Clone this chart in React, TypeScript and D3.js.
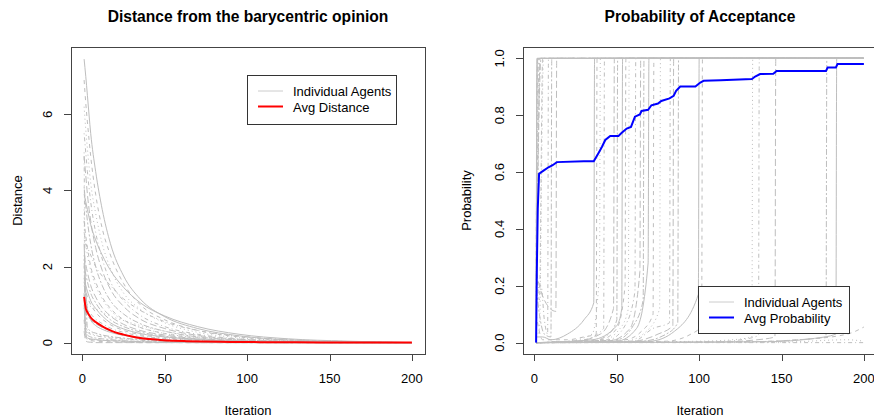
import React from "react";
import * as d3 from "d3";

// iterations at which the individual distance curves were read
const distIters = [1, 2, 3, 5, 8, 12, 17, 25, 35, 50, 70, 95, 125, 160, 200];

const distanceAgents: number[][] = [
  [7.45, 7.0, 6.5, 5.5, 4.5, 3.5, 2.6, 1.75, 1.15, 0.68, 0.37, 0.18, 0.07, 0.03, 0.0],
  [6.9, 6.3, 5.8, 4.9, 3.9, 3.0, 2.3, 1.55, 1.0, 0.6, 0.32, 0.15, 0.06, 0.02, 0.0],
  [6.2, 5.6, 5.1, 4.2, 3.4, 2.6, 1.95, 1.3, 0.88, 0.52, 0.27, 0.13, 0.05, 0.02, 0.0],
  [5.5, 5.0, 4.5, 3.7, 2.9, 2.2, 1.6, 1.1, 0.72, 0.42, 0.22, 0.1, 0.04, 0.015, 0.0],
  [4.9, 4.4, 3.9, 3.2, 2.5, 1.9, 1.4, 0.95, 0.62, 0.37, 0.19, 0.09, 0.035, 0.01, 0.0],
  [4.1, 3.6, 3.2, 2.6, 2.0, 1.5, 1.1, 0.75, 0.5, 0.3, 0.15, 0.07, 0.03, 0.01, 0.0],
  [3.9, 3.7, 3.5, 3.1, 2.7, 2.3, 1.9, 1.45, 1.05, 0.7, 0.42, 0.22, 0.1, 0.04, 0.0],
  [3.2, 2.8, 2.5, 2.0, 1.6, 1.2, 0.9, 0.6, 0.4, 0.24, 0.12, 0.05, 0.02, 0.01, 0.0],
  [2.9, 2.6, 2.3, 1.9, 1.5, 1.15, 0.85, 0.58, 0.4, 0.24, 0.13, 0.06, 0.02, 0.01, 0.0],
  [2.7, 2.6, 2.5, 2.3, 2.0, 1.75, 1.5, 1.15, 0.85, 0.55, 0.32, 0.17, 0.08, 0.03, 0.0],
  [2.3, 2.05, 1.85, 1.5, 1.2, 0.92, 0.7, 0.48, 0.32, 0.2, 0.1, 0.05, 0.02, 0.005, 0.0],
  [2.0, 1.8, 1.6, 1.3, 1.05, 0.8, 0.6, 0.42, 0.28, 0.17, 0.09, 0.04, 0.015, 0.005, 0.0],
  [1.7, 1.5, 1.35, 1.1, 0.9, 0.7, 0.52, 0.36, 0.24, 0.15, 0.08, 0.035, 0.01, 0.0, 0.0],
  [1.5, 1.35, 1.2, 1.0, 0.8, 0.62, 0.47, 0.32, 0.21, 0.13, 0.07, 0.03, 0.01, 0.0, 0.0],
  [1.1, 1.05, 1.0, 0.95, 0.88, 0.8, 0.7, 0.58, 0.45, 0.3, 0.17, 0.08, 0.03, 0.01, 0.0],
  [1.1, 1.0, 0.9, 0.76, 0.62, 0.5, 0.38, 0.27, 0.18, 0.11, 0.06, 0.025, 0.01, 0.0, 0.0],
  [0.9, 0.8, 0.72, 0.6, 0.5, 0.4, 0.3, 0.21, 0.14, 0.08, 0.04, 0.02, 0.01, 0.0, 0.0],
  [2.2, 0.35, 0.2, 0.15, 0.12, 0.1, 0.08, 0.05, 0.03, 0.02, 0.01, 0.0, 0.0, 0.0, 0.0],
  [1.0, 0.25, 0.12, 0.1, 0.08, 0.06, 0.05, 0.04, 0.02, 0.01, 0.0, 0.0, 0.0, 0.0, 0.0],
  [0.6, 0.15, 0.08, 0.05, 0.04, 0.03, 0.02, 0.01, 0.0, 0.0, 0.0, 0.0, 0.0, 0.0, 0.0],
  [3.5, 0.5, 0.3, 0.25, 0.2, 0.17, 0.14, 0.1, 0.07, 0.04, 0.02, 0.01, 0.0, 0.0, 0.0],
  [5.0, 0.6, 0.28, 0.22, 0.18, 0.15, 0.12, 0.09, 0.06, 0.03, 0.015, 0.005, 0.0, 0.0, 0.0],
  [0.3, 0.05, 0.02, 0.01, 0.0, 0.0, 0.0, 0.0, 0.0, 0.0, 0.0, 0.0, 0.0, 0.0, 0.0],
  [1.6, 1.2, 0.4, 0.3, 0.25, 0.2, 0.16, 0.12, 0.08, 0.05, 0.02, 0.01, 0.0, 0.0, 0.0],
  [2.6, 1.4, 0.9, 0.6, 0.45, 0.35, 0.27, 0.19, 0.12, 0.07, 0.03, 0.01, 0.0, 0.0, 0.0],
  [1.3, 0.2, 0.1, 0.08, 0.07, 0.06, 0.05, 0.03, 0.02, 0.01, 0.0, 0.0, 0.0, 0.0, 0.0],
];

const avgDistance: [number, number][] = [
  [1, 1.2], [2, 0.9], [3, 0.8], [5, 0.66], [8, 0.54], [12, 0.43], [16, 0.34], [20, 0.27],
  [25, 0.21], [30, 0.16], [35, 0.12], [40, 0.095], [47, 0.072], [55, 0.052], [63, 0.038],
  [73, 0.027], [90, 0.018], [110, 0.012], [130, 0.008], [160, 0.004], [200, 0.001],
];

const probAgents: [number, number][][] = [
  [[1, 0], [1.5, 1], [200, 1]],
  [[1, 0.28], [2, 1], [200, 1]],
  [[1, 0.15], [2.5, 1], [200, 1]],
  [[1, 0.05], [3, 1], [200, 1]],
  [[1, 0.22], [2, 0.6], [3.5, 1], [200, 1]],
  [[1, 0.1], [4, 1], [200, 1]],
  [[1, 0.12], [1.8, 1], [200, 1]],
  [[1, 0.3], [3, 0.15], [5, 1], [200, 1]],
  [[1, 0.02], [3, 0.05], [5.5, 1], [200, 1]],
  [[1, 0.18], [4, 0.2], [6, 0.08], [8, 0.03], [8.5, 1], [200, 1]],
  [[1, 0.25], [3, 0.2], [8, 0.13], [13, 0.11], [13.5, 1], [200, 1]],
  [[1, 0.2], [3, 0.1], [6, 0.03], [10, 0.02], [10.5, 1], [200, 1]],
  [[1, 0.02], [5, 0.02], [10, 0.01], [20, 0.03], [30, 0.08], [36, 0.14], [36.5, 1], [200, 1]],
  [[1, 0.1], [5, 0.01], [20, 0.01], [30, 0.02], [37.5, 0.03], [38, 1], [200, 1]],
  [[1, 0], [20, 0.005], [35, 0.03], [39.5, 0.25], [40, 1], [200, 1]],
  [[1, 0], [30, 0.01], [42, 0.05], [42.5, 1], [200, 1]],
  [[1, 0], [25, 0.005], [40, 0.03], [48, 0.12], [48.5, 1], [200, 1]],
  [[1, 0], [35, 0.005], [45, 0.03], [50, 0.08], [50.5, 1], [200, 1]],
  [[1, 0], [35, 0.01], [50, 0.06], [53, 0.12], [53.5, 1], [200, 1]],
  [[1, 0], [40, 0.01], [50, 0.05], [55, 0.2], [55.5, 1], [200, 1]],
  [[1, 0], [40, 0.005], [52, 0.05], [57, 0.12], [57.5, 1], [200, 1]],
  [[1, 0], [45, 0.01], [55, 0.06], [61, 0.18], [61.5, 1], [200, 1]],
  [[1, 0], [45, 0.005], [58, 0.05], [64, 0.25], [64.5, 1], [200, 1]],
  [[1, 0], [50, 0.01], [60, 0.06], [66, 0.15], [66.5, 1], [200, 1]],
  [[1, 0], [50, 0.005], [62, 0.05], [69, 0.28], [69.5, 1], [200, 1]],
  [[1, 0], [55, 0.01], [65, 0.04], [72, 0.1], [72.5, 1], [200, 1]],
  [[1, 0], [55, 0.005], [68, 0.04], [76, 0.12], [76.5, 1], [200, 1]],
  [[1, 0], [60, 0.005], [72, 0.05], [82, 0.07], [82.5, 1], [200, 1]],
  [[1, 0], [60, 0.005], [75, 0.03], [84, 0.06], [84.5, 1], [200, 1]],
  [[1, 0], [65, 0.005], [80, 0.03], [87, 0.07], [87.5, 1], [200, 1]],
  [[1, 0], [70, 0.005], [85, 0.04], [99.5, 0.17], [100, 1], [200, 1]],
  [[1, 0], [80, 0.005], [95, 0.03], [101.5, 0.06], [102, 1], [200, 1]],
  [[1, 0], [100, 0.005], [120, 0.01], [132, 0.02], [132.5, 1], [200, 1]],
  [[1, 0], [110, 0.003], [125, 0.01], [136, 0.025], [136.5, 1], [200, 1]],
  [[1, 0], [110, 0.002], [135, 0.01], [146, 0.02], [146.5, 1], [200, 1]],
  [[1, 0], [130, 0.003], [160, 0.01], [177, 0.02], [177.5, 1], [200, 1]],
  [[1, 0], [140, 0.003], [170, 0.015], [183, 0.03], [183.5, 1], [200, 1]],
  [[1, 0], [120, 0.002], [160, 0.01], [190, 0.03], [200, 0.055]],
  [[1, 0], [150, 0.002], [190, 0.01], [200, 0.005]],
  [[1, 0], [200, 0]],
];

const avgProbability: [number, number][] = [
  [1, 0], [1.4, 0.238], [2, 0.47], [2.8, 0.594], [5.5, 0.605], [8.5, 0.617], [11, 0.624],
  [13.6, 0.635], [30, 0.638], [36, 0.638], [39, 0.668], [41, 0.689], [43, 0.713], [46, 0.727],
  [51, 0.727], [53, 0.738], [56, 0.753], [58.6, 0.759], [61, 0.795], [64, 0.803], [65, 0.815],
  [69, 0.819], [71, 0.835], [75, 0.841], [77, 0.85], [82, 0.859], [84.5, 0.868], [86, 0.886],
  [88.5, 0.901], [97.7, 0.901], [100.7, 0.915], [102.7, 0.921], [113, 0.923], [132, 0.927],
  [134, 0.936], [137, 0.945], [145, 0.946], [147, 0.956], [177, 0.956], [178, 0.968],
  [183, 0.968], [184, 0.98], [200, 0.98],
];

const xTicks = [0, 50, 100, 150, 200];
const distTicks = [0, 2, 4, 6];
const probTicks = [0, 0.2, 0.4, 0.6, 0.8, 1.0];

// R lty 1..6
const dashes = ["", "4,4", "1,3", "1,3,4,3", "7,3", "2,2,6,2"];
const FONT = "'Liberation Sans', Arial, sans-serif";
const TOP = 47;
const BOTTOM = 354;

function Panel(props: {
  x0: number;
  title: string;
  yLabel: string;
  yLabelX: number;
  yDomain: [number, number];
  yTicks: number[];
  fmt: (v: number) => string;
  children: (x: d3.ScaleLinear<number, number>, y: d3.ScaleLinear<number, number>) => React.ReactNode;
}) {
  const { x0, title, yLabel, yLabelX, yDomain, yTicks, fmt } = props;
  const x1 = x0 + 354;
  const x = d3.scaleLinear().domain([1 - 7.96, 200 + 7.96]).range([x0, x1]);
  const y = d3.scaleLinear().domain(yDomain).range([BOTTOM, TOP]);
  const cx = (x0 + x1) / 2;
  return (
    <g>
      <text x={cx} y={21.5} textAnchor="middle" fontWeight="bold" fontSize={15.6}>{title}</text>
      {props.children(x, y)}
      <rect x={x0 + 0.5} y={TOP + 0.5} width={354} height={BOTTOM - TOP} fill="none" stroke="#444" />
      <line x1={x(0)} x2={x(200)} y1={BOTTOM + 0.5} y2={BOTTOM + 0.5} stroke="#444" />
      {xTicks.map(t => (
        <g key={t}>
          <line x1={Math.round(x(t)) + 0.5} x2={Math.round(x(t)) + 0.5} y1={BOTTOM} y2={BOTTOM + 7} stroke="#444" />
          <text x={x(t)} y={383} textAnchor="middle" fontSize={13}>{t}</text>
        </g>
      ))}
      {yTicks.map(t => (
        <g key={t}>
          <line x1={x0 - 7} x2={x0} y1={Math.round(y(t)) + 0.5} y2={Math.round(y(t)) + 0.5} stroke="#444" />
          <text transform={`translate(${x0 - 19.5},${y(t)}) rotate(-90)`} textAnchor="middle" fontSize={13}>{fmt(t)}</text>
        </g>
      ))}
      <text x={cx} y={415} textAnchor="middle" fontSize={13}>Iteration</text>
      <text transform={`translate(${yLabelX},${(TOP + BOTTOM) / 2}) rotate(-90)`} textAnchor="middle" fontSize={13}>{yLabel}</text>
    </g>
  );
}

function Legend(props: { x: number; y: number; w: number; h: number; label: string; color: string }) {
  const { x, y, w, h, label, color } = props;
  return (
    <g>
      <rect x={x + 0.5} y={y + 0.5} width={w} height={h} fill="white" stroke="#333" />
      <line x1={x + 11} x2={x + 36} y1={y + 16} y2={y + 16} stroke="#cccccc" strokeWidth={1} />
      <line x1={x + 11} x2={x + 36} y1={y + 31.5} y2={y + 31.5} stroke={color} strokeWidth={2} />
      <text x={x + 46} y={y + 21} fontSize={13}>Individual Agents</text>
      <text x={x + 46} y={y + 36.5} fontSize={13}>{label}</text>
    </g>
  );
}

export default function App() {
  const distMax = 7.47;
  return (
    <div style={{ position: "absolute", left: 0, top: 0 }}>
      <svg width={874} height={418} style={{ display: "block", background: "white" }} fontFamily={FONT}>
        <Panel
          x0={71}
          title="Distance from the barycentric opinion"
          yLabel="Distance"
          yLabelX={22}
          yDomain={[-0.04 * distMax, 1.04 * distMax]}
          yTicks={distTicks}
          fmt={v => String(v)}
        >
          {(x, y) => {
            const line = d3.line<number>()
              .x((_, i) => x(distIters[i]))
              .y(d => y(d))
              .curve(d3.curveMonotoneX);
            const avg = d3.line<[number, number]>()
              .x(d => x(d[0]))
              .y(d => y(d[1]))
              .curve(d3.curveMonotoneX);
            return (
              <g>
                {distanceAgents.map((a, i) => (
                  <path key={i} d={line(a) || ""} fill="none" stroke="#bebebe" strokeWidth={1} strokeDasharray={dashes[i % 6]} />
                ))}
                <path d={avg(avgDistance) || ""} fill="none" stroke="#ff0000" strokeWidth={2} />
                <Legend x={247} y={75} w={149} h={49} label="Avg Distance" color="#ff0000" />
              </g>
            );
          }}
        </Panel>
        <Panel
          x0={523}
          title="Probability of Acceptance"
          yLabel="Probability"
          yLabelX={471}
          yDomain={[-0.04, 1.04]}
          yTicks={probTicks}
          fmt={v => v.toFixed(1)}
        >
          {(x, y) => {
            const line = d3.line<[number, number]>()
              .x(d => x(d[0]))
              .y(d => y(d[1]))
              .curve(d3.curveMonotoneX);
            const avg = d3.line<[number, number]>()
              .x(d => x(d[0]))
              .y(d => y(d[1]));
            return (
              <g>
                {probAgents.map((a, i) => (
                  <path key={i} d={line(a) || ""} fill="none" stroke="#bebebe" strokeWidth={1} strokeDasharray={dashes[i % 6]} />
                ))}
                <path d={avg(avgProbability) || ""} fill="none" stroke="#0000ff" strokeWidth={2} />
                <Legend x={698} y={286} w={151} h={47} label="Avg Probability" color="#0000ff" />
              </g>
            );
          }}
        </Panel>
      </svg>
    </div>
  );
}
